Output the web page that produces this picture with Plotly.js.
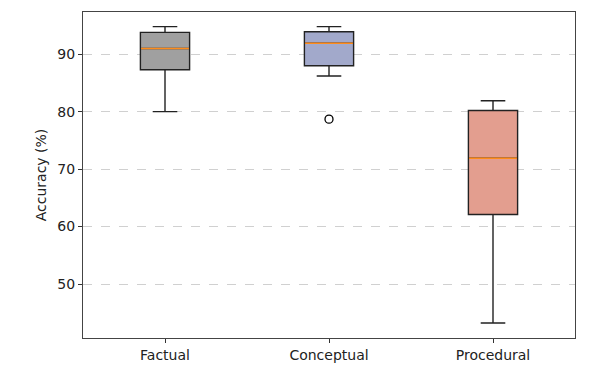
<!DOCTYPE html>
<html>
<head>
<meta charset="utf-8">
<script src="https://cdn.plot.ly/plotly-3.0.1.min.js"></script>
<style>html,body{margin:0;padding:0;background:#fff;}#chart{width:598px;height:382px;}</style>
</head>
<body>
<div id="chart"></div>
<script>
const categories = ["Factual", "Conceptual", "Procedural"];
const lowerWhisker = [80.0, 86.2, 43.2];
const q1Values = [87.3, 88.0, 62.1];
const medians = [91.0, 91.9, 71.9];
const q3Values = [93.8, 93.9, 80.2];
const upperWhisker = [94.8, 94.8, 81.9];
const outlierCategory = [2];
const outlierValues = [78.7];
const fillColors = ["#a0a0a0", "#a2a9cb", "#e39e8f"];
const yTicks = [50, 60, 70, 80, 90];

const boxWidth = 0.3;
const traces = [];
categories.forEach((c, i) => {
  const pos = i + 1;
  traces.push({
    type: "box",
    x: [pos],
    q1: [q1Values[i]],
    median: [medians[i]],
    q3: [q3Values[i]],
    lowerfence: [lowerWhisker[i]],
    upperfence: [upperWhisker[i]],
    width: boxWidth,
    whiskerwidth: 0.5,
    fillcolor: fillColors[i],
    line: {color: "#222222", width: 1.4},
    boxpoints: false,
    hoverinfo: "skip",
    showlegend: false
  });
});
categories.forEach((c, i) => {
  const pos = i + 1;
  traces.push({
    type: "scatter",
    mode: "lines",
    x: [pos - boxWidth / 2 + 0.004, pos + boxWidth / 2 - 0.004],
    y: [medians[i], medians[i]],
    line: {color: "#ff8c1a", width: 1.4},
    hoverinfo: "skip",
    showlegend: false
  });
});
traces.push({
  type: "scatter",
  mode: "markers",
  x: outlierCategory,
  y: outlierValues,
  marker: {symbol: "circle-open", size: 8, color: "#000", line: {width: 1.3, color: "#000"}},
  hoverinfo: "skip",
  showlegend: false
});

const font = "DejaVu Sans, sans-serif";
const layout = {
  width: 598, height: 382,
  margin: {l: 83, r: 23, t: 12, b: 44},
  paper_bgcolor: "#fff", plot_bgcolor: "#fff",
  font: {family: font, size: 14, color: "#000"},
  xaxis: {
    range: [0.5, 3.5],
    tickvals: [1, 2, 3],
    ticktext: categories,
    ticks: "outside", ticklen: 4, tickcolor: "#333", tickwidth: 1,
    showgrid: false, zeroline: false,
    showline: true, linecolor: "#444", linewidth: 1, mirror: true,
    tickfont: {family: font, size: 14, color: "#222"}
  },
  yaxis: {
    range: [40.6, 97.35],
    tickvals: yTicks,
    ticks: "outside", ticklen: 4, tickcolor: "#333", tickwidth: 1,
    showgrid: true, gridcolor: "#d0d0d0", griddash: "dash", gridwidth: 1,
    zeroline: false,
    showline: true, linecolor: "#444", linewidth: 1, mirror: true,
    tickfont: {family: font, size: 14, color: "#222"},
    title: {text: "Accuracy (%)", font: {family: font, size: 14, color: "#222"}, standoff: 7}
  }
};
Plotly.newPlot("chart", traces, layout, {displayModeBar: false, staticPlot: true});
</script>
</body>
</html>
